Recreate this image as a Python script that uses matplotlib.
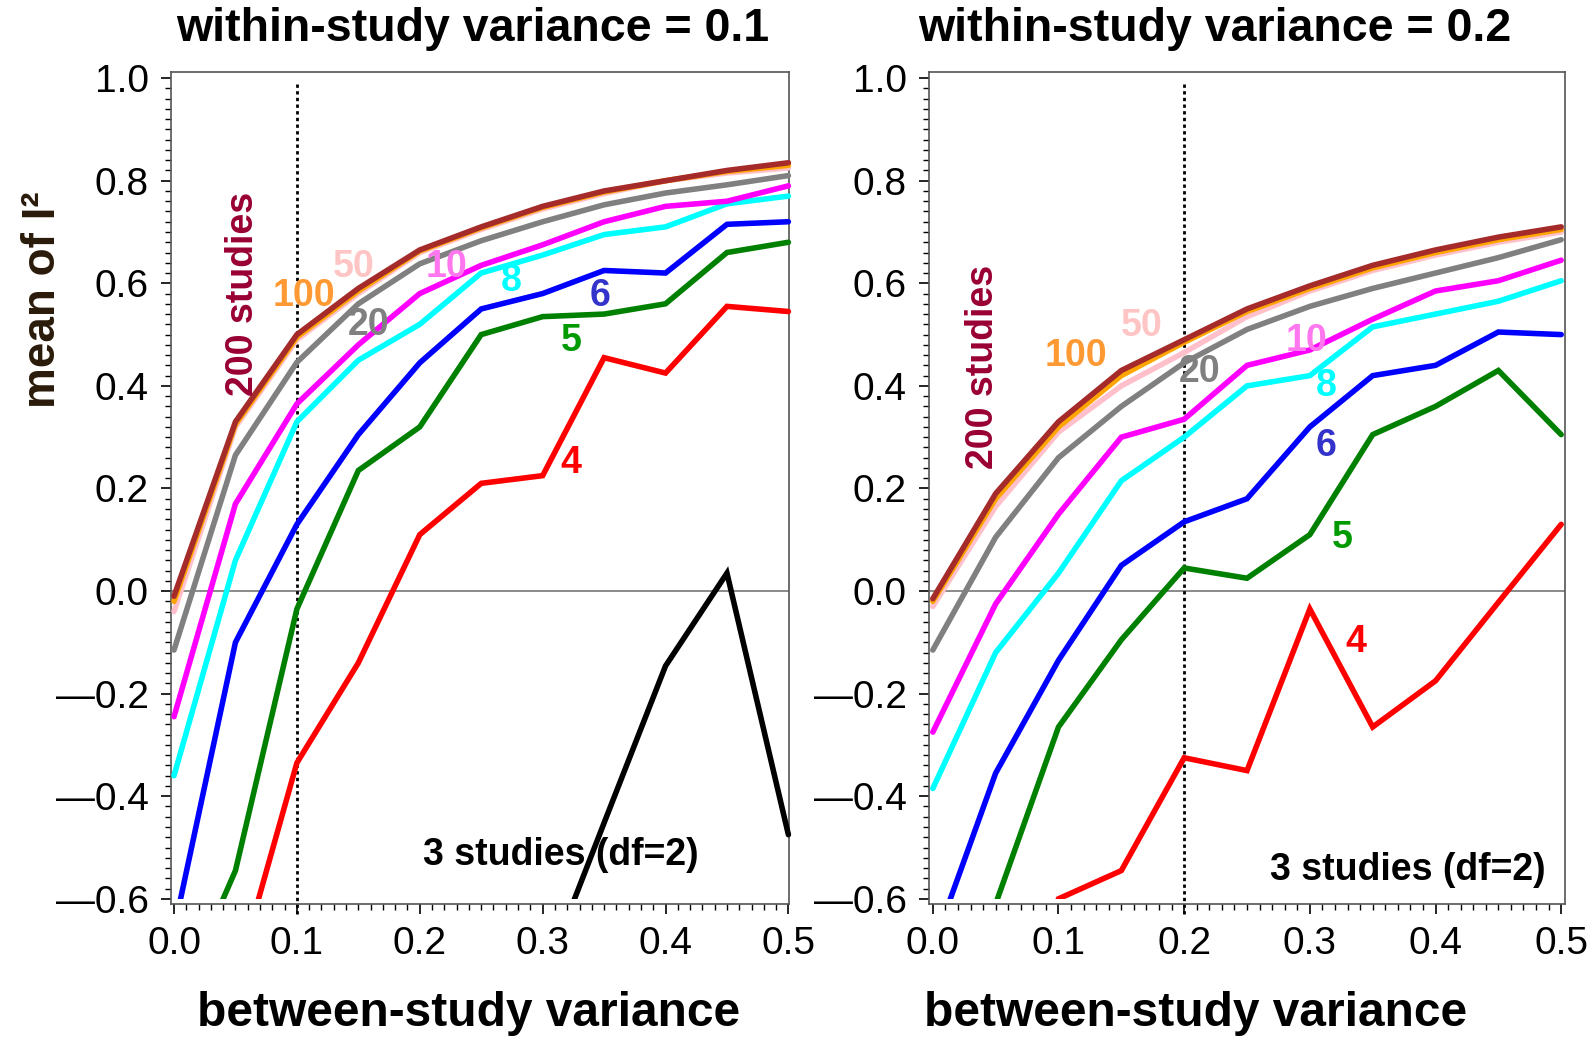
import numpy as np
import matplotlib
matplotlib.use("Agg")
import matplotlib.pyplot as plt
from matplotlib.patches import Rectangle
from matplotlib.ticker import MultipleLocator

plt.rcParams['font.family'] = ['Liberation Sans', 'DejaVu Sans']

# between-study variance grid
tau2 = [0.0, 0.05, 0.1, 0.15, 0.2, 0.25, 0.3, 0.35, 0.4, 0.45, 0.5]

# within-study variance = 0.1  (values below -0.6 are cut off in the chart)
w1_k3 = [-3.0, -2.6, -2.2, -1.8, -1.4, -1.1, -0.76, -0.452, -0.146, 0.035, -0.475]
w1_k4 = [-1.3, -0.76, -0.335, -0.14, 0.11, 0.21, 0.225, 0.455, 0.425, 0.555, 0.545]
w1_k5 = [-0.82, -0.545, -0.035, 0.235, 0.32, 0.50, 0.535, 0.54, 0.56, 0.66, 0.68]
w1_k6 = [-0.66, -0.10, 0.13, 0.305, 0.445, 0.55, 0.58, 0.625, 0.62, 0.715, 0.72]
w1_k8 = [-0.36, 0.06, 0.33, 0.45, 0.52, 0.62, 0.655, 0.695, 0.71, 0.755, 0.77]
w1_k10 = [-0.245, 0.17, 0.365, 0.48, 0.58, 0.635, 0.675, 0.72, 0.75, 0.76, 0.79]
w1_k20 = [-0.115, 0.265, 0.446, 0.56, 0.638, 0.683, 0.72, 0.753, 0.776, 0.792, 0.81]
w1_k50 = [-0.04, 0.32, 0.49, 0.58, 0.66, 0.705, 0.745, 0.775, 0.80, 0.815, 0.825]
w1_k100 = [-0.02, 0.325, 0.495, 0.585, 0.663, 0.708, 0.748, 0.778, 0.80, 0.818, 0.83]
w1_k200 = [-0.01, 0.33, 0.50, 0.59, 0.665, 0.71, 0.75, 0.78, 0.80, 0.82, 0.835]

# within-study variance = 0.2
w2_k4 = [-1.2, -0.9, -0.60, -0.545, -0.325, -0.35, -0.035, -0.265, -0.175, -0.022, 0.13]
w2_k5 = [-1.0, -0.61, -0.265, -0.095, 0.045, 0.025, 0.11, 0.305, 0.36, 0.43, 0.305]
w2_k6 = [-0.695, -0.355, -0.135, 0.05, 0.135, 0.18, 0.32, 0.42, 0.44, 0.505, 0.50]
w2_k8 = [-0.385, -0.12, 0.035, 0.215, 0.30, 0.40, 0.42, 0.515, 0.54, 0.565, 0.605]
w2_k10 = [-0.275, -0.025, 0.15, 0.30, 0.335, 0.44, 0.47, 0.53, 0.585, 0.605, 0.645]
w2_k20 = [-0.115, 0.105, 0.26, 0.36, 0.445, 0.51, 0.555, 0.59, 0.62, 0.65, 0.685]
w2_k50 = [-0.03, 0.165, 0.31, 0.40, 0.465, 0.535, 0.585, 0.625, 0.655, 0.68, 0.70]
w2_k100 = [-0.02, 0.18, 0.32, 0.42, 0.485, 0.545, 0.59, 0.63, 0.66, 0.685, 0.705]
w2_k200 = [-0.015, 0.19, 0.33, 0.43, 0.49, 0.55, 0.595, 0.635, 0.665, 0.69, 0.71]

line_colors = ['black', 'red', 'green', 'blue', 'cyan', 'magenta', 'gray', 'pink', 'orange', 'brown']
label_texts = ['4', '5', '6', '8', '10', '20', '50', '100', '200 studies']
label_colors = ['red', '#009900', '#3333cc', 'cyan', '#ff77ee', 'gray', '#ffc4c4', '#ff9933', '#990033']

# label positions (data coords) for each panel
w1_lab_x = [0.323, 0.323, 0.347, 0.274, 0.222, 0.158, 0.146, 0.106, 0.056]
w1_lab_y = [0.249, 0.488, 0.575, 0.604, 0.632, 0.518, 0.632, 0.575, 0.58]
w2_lab_x = [0.337, 0.326, 0.313, 0.313, 0.297, 0.212, 0.166, 0.114, 0.040]
w2_lab_y = [-0.10, 0.103, 0.282, 0.399, 0.488, 0.427, 0.516, 0.458, 0.437]

fig = plt.figure(figsize=(15.93, 10.37), dpi=100)
ax1 = fig.add_axes([0.1073, 0.1283, 0.388, 0.8023])
ax2 = fig.add_axes([0.5832, 0.1283, 0.3992, 0.8023])

panels = [
    (ax1, [w1_k3, w1_k4, w1_k5, w1_k6, w1_k8, w1_k10, w1_k20, w1_k50, w1_k100, w1_k200],
     0.1, w1_lab_x, w1_lab_y, (0.315, -0.514), (-0.0025, 0.5005)),
    (ax2, [None, w2_k4, w2_k5, w2_k6, w2_k8, w2_k10, w2_k20, w2_k50, w2_k100, w2_k200],
     0.2, w2_lab_x, w2_lab_y, (0.378, -0.543), (-0.003, 0.503)),
]

for ax, series, vline, lx, ly, lab3, xl in panels:
    ax.set_xlim(*xl)
    ax.set_ylim(-0.61, 1.012)
    ax.axhline(0, color='#777777', lw=1.2, zorder=1)
    ax.axvline(vline, ymin=-0.012, ymax=0.988, color='black', ls=(0, (1.2, 1.2)),
               lw=2, clip_on=False, zorder=2)
    clip = Rectangle((-1, -0.6), 3, 3, transform=ax.transData)
    for ys, c in zip(series, line_colors):
        if ys is None:
            continue
        ln, = ax.plot(tau2, ys, color=c, lw=4, solid_joinstyle='miter',
                      solid_capstyle='round', zorder=3)
        ln.set_clip_path(clip)
    for t, c, x, y in zip(label_texts, label_colors, lx, ly):
        rot = 90 if 'studies' in t else 0
        ax.text(x, y, t, color=c, fontsize=27, fontweight='bold', rotation=rot,
                ha='center', va='center', zorder=4)
    ax.text(lab3[0], lab3[1], '3 studies (df=2)', color='black', fontsize=27,
            fontweight='bold', ha='center', va='center', zorder=4)

    ax.xaxis.set_major_locator(MultipleLocator(0.1))
    ax.xaxis.set_minor_locator(MultipleLocator(0.01))
    ax.yaxis.set_major_locator(MultipleLocator(0.2))
    ax.yaxis.set_minor_locator(MultipleLocator(0.02))
    ax.xaxis.set_major_formatter(plt.FuncFormatter(lambda v, p: f'{v:.1f}'))
    ax.yaxis.set_major_formatter(plt.FuncFormatter(
        lambda v, p: ('\u2014' + f'{abs(v):.1f}') if v < -1e-9 else f'{abs(v):.1f}'))
    ax.tick_params(which='major', direction='out', length=7, width=1.2,
                   labelsize=28, pad=9)
    ax.tick_params(which='minor', direction='out', length=4, width=1)
    for s in ax.spines.values():
        s.set_linewidth(1.2)
        s.set_color('#555555')

fig.text(473 / 1593, 1 - 29 / 1037, 'within-study variance = 0.1', fontsize=33.5,
         fontweight='bold', ha='center', va='center')
fig.text(1215 / 1593, 1 - 29 / 1037, 'within-study variance = 0.2', fontsize=33.5,
         fontweight='bold', ha='center', va='center')
fig.text(469 / 1593, 1 - 1013 / 1037, 'between-study variance', fontsize=34.5,
         fontweight='bold', ha='center', va='center')
fig.text(1196 / 1593, 1 - 1013 / 1037, 'between-study variance', fontsize=34.5,
         fontweight='bold', ha='center', va='center')
fig.text(43 / 1593, 1 - 300 / 1037, 'mean of I\u00b2', fontsize=33, fontweight='bold',
         color='#2a1a0a', rotation=90, ha='center', va='center')

fig.savefig('out.png', dpi=100)
